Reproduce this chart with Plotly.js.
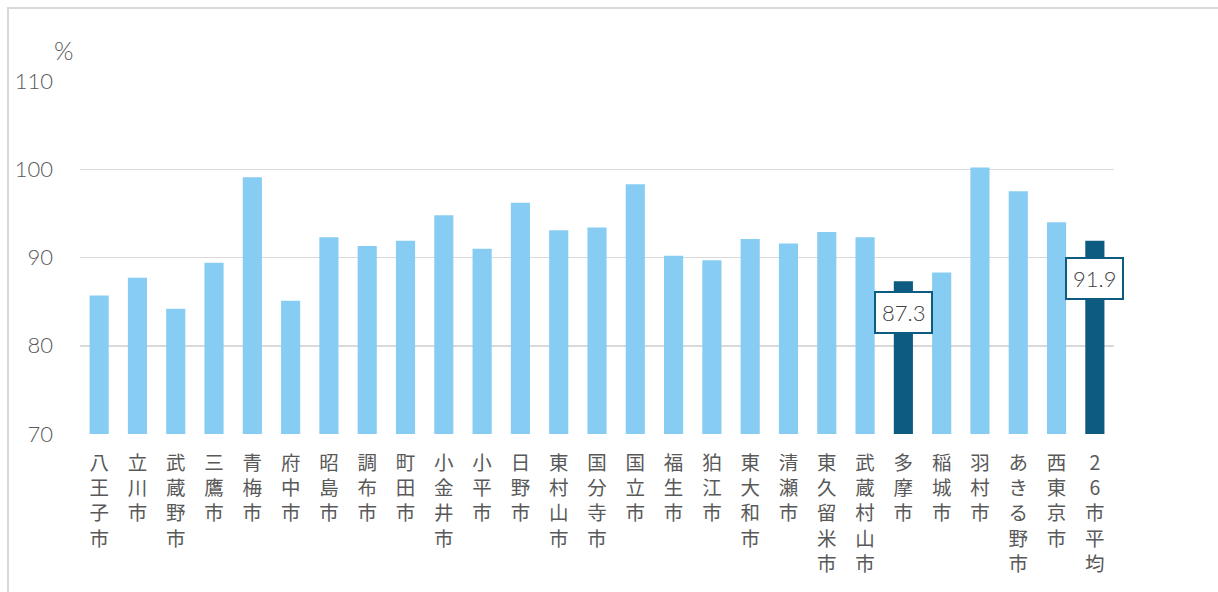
<!DOCTYPE html>
<html>
<head>
<meta charset="utf-8">
<script src="https://cdn.plot.ly/plotly-3.0.1.min.js"></script>
<style>
html,body{margin:0;padding:0;background:#fff;}
#frame{position:absolute;left:7px;top:7px;width:1300px;height:700px;border-left:2px solid #d9d9d9;border-top:2px solid #d9d9d9;box-sizing:border-box;}
#chart{position:absolute;left:0;top:0;width:1218px;height:592px;}
</style>
</head>
<body>
<div id="frame"></div>
<div id="chart"></div>
<script>
const categories = ["八王子市","立川市","武蔵野市","三鷹市","青梅市","府中市","昭島市","調布市","町田市","小金井市","小平市","日野市","東村山市","国分寺市","国立市","福生市","狛江市","東大和市","清瀬市","東久留米市","武蔵村山市","多摩市","稲城市","羽村市","あきる野市","西東京市","26市平均"];
const values = [85.7,87.7,84.2,89.4,99.1,85.1,92.3,91.3,91.9,94.8,91.0,96.2,93.1,93.4,98.3,90.2,89.7,92.1,91.6,92.9,92.3,87.3,88.3,100.2,97.5,94.0,91.9];
const highlighted = ["多摩市","26市平均"];
const labelled = ["多摩市","26市平均"];
const yTicks = [70,80,90,100,110];

const tickText = categories.map(c => Array.from(c).join("<br>"));
const colors = categories.map(c => highlighted.includes(c) ? "#0E5B81" : "#87CDF3");

const trace = {
  type: "bar",
  x: categories,
  y: values,
  marker: {color: colors},
  width: 0.5,
  hoverinfo: "x+y"
};

const shifts = {"多摩市": -10, "26市平均": -16};
const annotations = labelled.map(c => {
  const i = categories.indexOf(c);
  return {
    x: c, y: values[i], xref: "x", yref: "y",
    text: values[i].toFixed(1),
    showarrow: false, yanchor: "top", yshift: shifts[c],
    bgcolor: "#ffffff", bordercolor: "#0E5B81", borderwidth: 2, borderpad: 6,
    font: {family: "Lato, 'Open Sans', sans-serif", size: 22, color: "#404040", weight: 300}
  };
});
annotations.push({
  text: "%", xref: "paper", yref: "paper", x: -0.004, y: 1.04, xanchor: "right", yanchor: "bottom",
  showarrow: false, font: {family: "Lato, 'Open Sans', sans-serif", size: 25, color: "#595959", weight: 300}
});

const layout = {
  width: 1218, height: 592,
  margin: {l: 80, r: 104, t: 81, b: 158},
  paper_bgcolor: "rgba(0,0,0,0)",
  plot_bgcolor: "rgba(0,0,0,0)",
  showlegend: false,
  bargap: 0.5,
  xaxis: {
    type: "category",
    range: [-0.5, categories.length - 0.5],
    autorange: false,
    tickmode: "array",
    tickvals: categories,
    ticktext: tickText,
    tickangle: 0,
    ticks: "",
    showgrid: false,
    showline: false,
    zeroline: false,
    automargin: false,
    ticklabelstandoff: 15,
    tickfont: {family: "'Noto Sans CJK JP', sans-serif", size: 19.5, color: "#595959"}
  },
  yaxis: {
    range: [70, 110],
    autorange: false,
    tickvals: yTicks,
    showgrid: true,
    gridcolor: "#d9d9d9",
    gridwidth: 1.5,
    zeroline: false,
    showline: false,
    automargin: false,
    ticks: "",
    ticklabelstandoff: 26,
    tickfont: {family: "Lato, 'Open Sans', sans-serif", size: 22, color: "#595959", weight: 300}
  },
  annotations: annotations
};

Plotly.newPlot("chart", [trace], layout, {displayModeBar: false, staticPlot: true});
</script>
</body>
</html>
